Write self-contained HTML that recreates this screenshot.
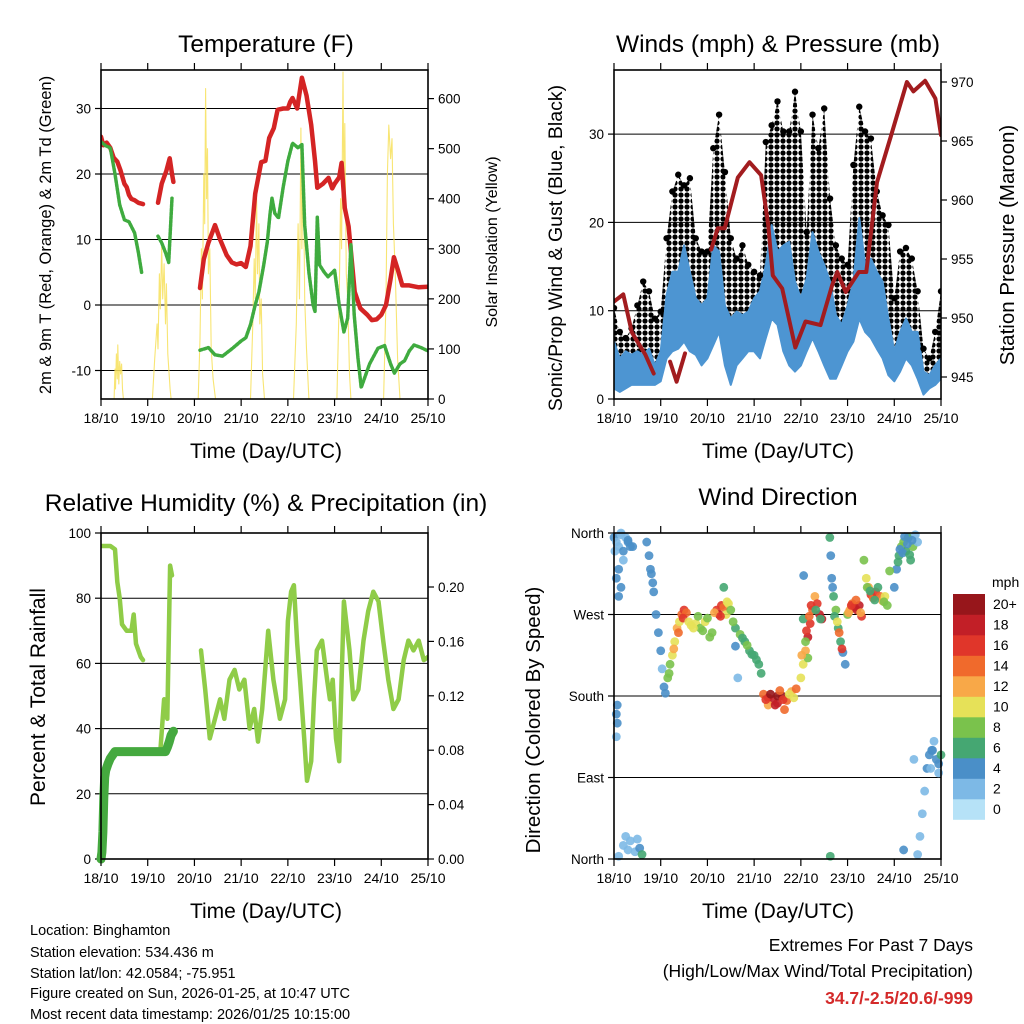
<!DOCTYPE html>
<html><head><meta charset="utf-8"><style>
html,body{margin:0;padding:0;background:#fff;}
svg{display:block;font-family:"Liberation Sans",Arial,sans-serif;}
</style></head><body>
<svg id="fig" width="1024" height="1024" viewBox="0 0 1024 1024">
<defs>
<pattern id="dotpat" x="0" y="0" width="6" height="6" patternUnits="userSpaceOnUse">
<circle cx="3" cy="3" r="2.6" fill="#000"/>
</pattern>
</defs>
<rect x="0" y="0" width="1024" height="1024" fill="#fff"/>
<text x="266" y="52" font-size="24.5" text-anchor="middle">Temperature (F)</text>
<text x="778" y="52" font-size="24.5" text-anchor="middle">Winds (mph) &amp; Pressure (mb)</text>
<text x="266" y="511" font-size="24.5" text-anchor="middle">Relative Humidity (%) &amp; Precipitation (in)</text>
<text x="778" y="505" font-size="24.5" text-anchor="middle">Wind Direction</text>
<text transform="translate(51,235) rotate(-90)" font-size="16.5" text-anchor="middle">2m &amp; 9m T (Red, Orange) &amp; 2m Td (Green)</text>
<text transform="translate(497,242) rotate(-90)" font-size="16" text-anchor="middle">Solar Insolation (Yellow)</text>
<text transform="translate(562,248) rotate(-90)" font-size="19.5" text-anchor="middle">Sonic/Prop Wind &amp; Gust (Blue, Black)</text>
<text transform="translate(1014,245) rotate(-90)" font-size="20.5" text-anchor="middle">Station Pressure (Maroon)</text>
<text transform="translate(45,697) rotate(-90)" font-size="21" text-anchor="middle">Percent &amp; Total Rainfall</text>
<text transform="translate(540,720) rotate(-90)" font-size="20.5" text-anchor="middle">Direction (Colored By Speed)</text>
<text x="266" y="458" font-size="21" text-anchor="middle">Time (Day/UTC)</text>
<text x="778" y="458" font-size="21" text-anchor="middle">Time (Day/UTC)</text>
<text x="266" y="918" font-size="21" text-anchor="middle">Time (Day/UTC)</text>
<text x="778" y="918" font-size="21" text-anchor="middle">Time (Day/UTC)</text>
<g font-size="14.5">
<text x="30" y="935">Location: Binghamton</text>
<text x="30" y="957">Station elevation: 534.436 m</text>
<text x="30" y="978">Station lat/lon: 42.0584; -75.951</text>
<text x="30" y="998">Figure created on Sun, 2026-01-25, at 10:47 UTC</text>
<text x="30" y="1019">Most recent data timestamp: 2026/01/25 10:15:00</text>
</g>
<g font-size="17.5" text-anchor="end">
<text x="973" y="951">Extremes For Past 7 Days</text>
<text x="973" y="977">(High/Low/Max Wind/Total Precipitation)</text>
<text x="973" y="1004" fill="#d42a2a" font-weight="bold">34.7/-2.5/20.6/-999</text>
</g>
</svg>
<script>
// ---------- data ----------
const dayLabels=["18/10","19/10","20/10","21/10","22/10","23/10","24/10","25/10"];
const tempTicks=[-10,0,10,20,30];
const solarTicks=[0,100,200,300,400,500,600];
const windTicks=[0,10,20,30];
const presTicks=[945,950,955,960,965,970];
const rhTicks=[0,20,40,60,80,100];
const rainTicks=[0,0.04,0.08,0.12,0.16,0.20];
const dirTickLabels=["North","East","South","West","North"];
const dirTickVals=[0,90,180,270,360];

const tempT=[[0,0.05,0.12,0.2,0.27,0.35,0.42,0.5,0.55,0.6,0.65,0.72,0.8,0.9],[1.22,1.3,1.4,1.47,1.52,1.55],[2.12,2.2,2.3,2.44,2.55,2.69,2.8,2.9,3.0,3.1,3.2,3.3,3.43,3.52,3.6,3.7,3.78,3.9,4.0,4.05,4.1,4.2,4.3,4.4,4.5,4.58,4.63,4.75,4.87,4.95,5.0,5.1,5.15,5.22,5.3,5.43,5.55,5.7,5.8,5.9,6.0,6.1,6.2,6.27,6.35,6.45,6.6,6.8,7.0]];
const tempV=[[25.7,24.4,24.8,24,22.5,21.9,20.5,18.5,18,16.8,16.2,16,15.6,15.4],[15.6,18.5,20.5,22.4,20,18.8],[2.6,7,9.5,12.2,10,7.6,6.5,6.2,6.4,5.8,9,17,21.8,22,25.5,27,29.8,30,30,31,31.6,30,34.7,32,27.5,22,17.9,18.5,19.4,17.8,18.5,19.5,21.7,14.8,12,2,-0.5,-1.5,-2.3,-2.2,-1.5,0,4,7.3,5.5,3,3,2.7,2.8]];
const dewT=[[0,0.1,0.2,0.3,0.4,0.5,0.6,0.72,0.8,0.87],[1.22,1.3,1.38,1.45,1.52],[2.12,2.3,2.44,2.6,2.82,3.0,3.1,3.2,3.3,3.38,3.48,3.56,3.62,3.66,3.72,3.8,3.9,4.0,4.1,4.22,4.3,4.36,4.45,4.54,4.58,4.63,4.66,4.68,4.78,4.86,5.0,5.1,5.2,5.28,5.35,5.42,5.5,5.57,5.65,5.75,5.93,6.07,6.2,6.28,6.4,6.5,6.6,6.7,6.85,7.0]];
const dewV=[[24.9,24.3,24,20,15.3,13,12.7,11,8,5],[10.5,9.5,8,6.5,16.3],[-6.9,-6.5,-7.6,-7.8,-6.6,-5.5,-5,-3,0,2,6,9.6,14,16.3,14,13.3,18,22,24.7,24,24.5,12.2,5,0,-1,13.4,9,6.1,5,4.3,5.3,0,-4.1,-2,9.2,-1.5,-8,-12.6,-11,-9,-6.6,-6.2,-9,-10.4,-9,-8.5,-7,-6.1,-6.5,-7]];
const solarT=[0.28,0.3,0.31,0.33,0.35,0.36,0.38,0.4,0.42,0.44,0.46,0.48,1.10,1.15,1.2,1.22,1.25,1.27,1.3,1.32,1.35,1.38,1.4,1.43,1.48,1.5,2.08,2.12,2.15,2.17,2.2,2.22,2.24,2.26,2.28,2.3,2.33,2.36,2.4,2.45,3.2,3.25,3.28,3.3,3.33,3.35,3.38,3.4,3.43,3.46,3.5,4.12,4.18,4.22,4.25,4.28,4.3,4.33,4.36,4.4,4.45,5.05,5.1,5.13,5.15,5.18,5.2,5.22,5.25,5.28,5.32,5.35,6.05,6.1,6.13,6.16,6.2,6.23,6.26,6.3,6.35,6.4];
const solarV=[0,60,20,90,40,108,30,75,50,70,20,0,0,80,150,100,250,180,307,200,270,150,230,90,20,0,0,120,300,200,450,350,620,400,500,250,300,100,40,0,0,150,280,200,401,250,350,150,200,50,0,0,150,350,200,541,300,480,200,100,0,0,200,400,300,653,400,550,250,200,50,0,0,200,450,547,480,520,350,250,80,0];

const windStepT=[0,0.125,0.25,0.375,0.5,0.625,0.75,0.875,1,1.125,1.25,1.375,1.5,1.625,1.75,1.875,2,2.125,2.25,2.375,2.5,2.625,2.75,2.875,3,3.125,3.25,3.375,3.5,3.625,3.75,3.875,4,4.125,4.25,4.375,4.5,4.625,4.75,4.875,5,5.125,5.25,5.375,5.5,5.625,5.75,5.875,6,6.125,6.25,6.375,6.5,6.625,6.75,6.875,7];
const gustHi=[10.3,7.6,6.9,8,10.6,13.3,12.2,9.1,9.9,18.2,23.5,25.4,24.2,25,18.2,16.7,16.7,28.4,32.2,25.7,18.2,15.9,17.4,15.2,14.4,14,29.1,31,33.7,30.3,30.3,34.8,30.3,18.9,32.2,28.4,32.9,22.7,17.4,15.9,15.2,26.5,33.1,30.3,29.5,23.5,20.8,19.7,11.4,16.7,17.1,15.9,12.2,5.7,4.6,7.6,12.2];
const windHi=[6.5,4.6,5.4,5,5.4,5,5.7,3.8,5.4,11.8,14.4,14.4,17.4,14.4,11.4,10.6,11.4,17.4,16.7,10.6,9.1,9.9,9.5,9.9,11.4,12.2,15.2,19.7,16.7,17.4,17.8,13.3,11.4,13.7,18.9,16.7,15.2,13.3,9.5,8.4,10.6,13.3,20.5,15.2,15.9,14.4,13.3,9.1,5.4,7.6,9.1,7.6,7.6,3.1,2.7,3.8,4.6];
const windLo=[1.2,0.8,1.2,1.6,1.6,1.6,1.6,1.6,2,4.6,5.4,5.7,6.5,5.4,5,3.8,4.6,6.1,7.6,3.8,1.6,3.8,4.6,5.4,5.4,4.6,6.9,9.1,8.4,5.4,3.8,3.1,3.8,5.4,6.9,5.4,3.8,2.3,2.3,3.8,5.4,6.5,9.1,7.6,6.9,5.7,4.6,2.7,2,3.1,4.6,3.8,2.3,0.5,1.2,1.6,2.3];
const presT=[[0,0.2,0.38,0.5,0.67,0.85],[1.2,1.34,1.52],[2.08,2.22,2.37,2.65,2.9,3.15,3.3,3.4,3.6,3.88,4.1,4.42,4.67,4.78,4.96,5.24,5.4,5.63,5.92,6.27,6.41,6.66,6.88,7.0]];
const presV=[[951.4,952,948.8,948,946.9,945.3],[946.3,944.6,947],[955.8,957.6,957.6,961.9,963.2,962.1,957.9,953.6,952.5,947.5,949.7,949.4,952.8,953.9,952.2,953.9,953.9,961.5,965.3,970,969.2,970.1,968.6,965.5]];

const rhT=[[0,0.2,0.3,0.35,0.4,0.45,0.55,0.65,0.7,0.75,0.85,0.9],[1.27,1.35,1.42,1.48,1.52],[2.14,2.23,2.33,2.44,2.55,2.64,2.75,2.86,2.96,3.07,3.18,3.28,3.36,3.45,3.58,3.69,3.83,3.94,4.0,4.07,4.13,4.2,4.26,4.35,4.41,4.5,4.56,4.62,4.73,4.84,4.9,4.96,5.03,5.1,5.2,5.32,5.4,5.51,5.62,5.72,5.83,5.94,6.04,6.15,6.26,6.37,6.48,6.58,6.69,6.8,6.91,7.0]];
const rhV=[[96,96,95,85,80,72,70,70,75,66,62,61],[33,49,43,90,87],[64,52,37,43,49,43,55,58,52,55,40,46,36,46,70,55,43,49,73,82,84,66,55,37,24,30,49,64,67,55,49,55,37,30,79,64,49,52,67,76,82,79,67,55,46,49,61,67,64,67,61,62]];
const rainT=[0,0.02,0.04,0.06,0.08,0.1,0.15,0.2,0.3,0.8,1.2,1.38,1.42,1.46,1.5,1.55];
const rainV=[0,0.005,0.02,0.045,0.06,0.065,0.07,0.074,0.079,0.079,0.079,0.079,0.082,0.086,0.091,0.094];

const dirT=[0,0.05,0.1,0.15,0.2,0.25,0.3,0.35,0.1,0.15,0.2,0.05,0.1,0.7,0.75,0.8,0.85,0.9,0.95,1.0,1.03,1.07,1.1,0.07,0.07,0.05,0.05,0.2,0.3,0.35,0.45,0.55,0.6,0.1,0.25,0.5,1.15,1.2,1.25,1.3,1.35,1.4,1.45,1.5,1.55,1.65,1.75,1.85,1.95,2.05,2.1,2.2,2.25,2.3,2.35,2.4,2.45,2.5,2.35,2.6,2.7,2.8,2.9,3.0,3.1,3.15,2.6,2.65,3.2,3.3,3.4,3.5,3.6,3.7,3.8,3.9,3.3,3.5,3.65,4.0,4.05,4.1,4.15,4.2,4.25,4.3,4.35,4.4,4.45,4.05,4.1,4.15,4.62,4.64,4.66,4.7,4.75,4.8,4.85,4.9,4.95,5.0,5.05,5.1,5.15,5.2,5.25,5.3,5.35,5.4,5.45,5.5,5.55,5.6,5.7,5.75,5.8,5.85,6.0,6.05,6.1,6.15,6.2,6.25,6.3,6.35,6.4,6.45,6.5,6.5,6.55,6.6,6.65,6.7,6.75,6.8,6.85,6.9,6.95,7.0,6.95,4.63,6.2,4.06,0.02,0.15,0.3,0.4,0.78,0.83,1.18,1.28,1.38,1.48,1.6,1.7,1.8,1.9,2.0,2.15,2.28,2.42,2.55,2.75,2.85,2.95,3.05,3.25,3.35,3.45,3.55,3.62,3.75,3.85,4.02,4.12,4.18,4.22,4.32,4.42,4.68,4.72,4.78,4.82,4.88,5.02,5.08,5.18,5.28,5.42,5.48,5.58,5.65,5.78,5.9,6.08,6.12,6.18,6.22,6.28,6.33,6.38,6.42,6.78,6.82,6.88,6.92,6.98,6.6,6.7];
const dirDeg=[355,350,345,358,340,355,350,345,320,300,330,310,290,350,335,315,295,270,250,230,210,190,183,170,150,135,160,15,10,20,8,12,5,3,25,22,200,215,225,240,255,262,270,275,272,258,260,255,262,245,250,275,270,280,278,270,282,275,300,255,248,240,230,225,215,205,235,200,182,178,175,172,180,175,185,188,170,180,165,200,215,230,245,260,275,290,282,270,265,265,240,222,355,335,310,290,275,255,240,228,215,270,275,282,278,275,280,268,330,310,300,292,288,295,290,285,290,280,300,320,335,345,350,340,355,330,345,358,350,5,25,50,75,100,115,120,130,110,105,115,95,3,10,313,340,360,352,345,320,305,205,232,250,266,262,255,268,252,266,272,268,284,262,244,236,226,220,176,182,170,186,176,182,178,225,252,268,280,275,265,300,268,262,250,232,272,280,286,272,300,296,286,300,284,318,328,342,338,356,348,336,352,110,100,120,112,108,60,85];
const dirSpd=[3,2,1,2,3,2,3,4,3,3,2,4,3,4,4,3,4,4,3,4,2,3,4,4,4,2,3,2,2,1,2,4,5,2,1,2,7,7,9,10,12,10,14,16,13,10,9,8,9,7,8,15,17,16,13,10,10,7,6,6,7,6,5,6,6,5,3,2,14,16,18,17,19,14,12,14,12,20,13,10,9,11,17,16,13,11,15,18,17,6,7,8,6,3,4,6,7,6,6,4,4,8,12,14,16,18,17,15,7,10,12,16,14,15,13,11,9,8,4,4,6,7,8,6,5,6,7,2,1,2,2,1,2,3,4,3,1,4,4,5,2,6,3,4,2,1,3,4,3,4,8,11,13,15,9,10,8,8,7,12,16,10,7,6,7,6,5,15,19,17,13,16,10,9,12,15,14,16,6,5,4,6,10,13,16,12,15,13,11,8,6,6,5,7,8,6,3,4,4,3,5,3,2,2,3];
const spdColors=["#b6e2f7","#7db9e6","#4a8fc8","#45a772","#7ac24c","#e6e158","#f8a848","#f06a2c","#e0362a","#c21f27","#97161b"];
const spdLabels=["0","2","4","6","8","10","12","14","16","18","20+"];

// ---------- helpers ----------
const NS="http://www.w3.org/2000/svg";
const svg=document.getElementById('fig');
function mk(tag,attrs,parent){const e=document.createElementNS(NS,tag);for(const k in attrs)e.setAttribute(k,attrs[k]);(parent||svg).appendChild(e);return e;}
function lin(d0,d1,r0,r1){return v=>r0+(v-d0)*(r1-r0)/(d1-d0);}

function panel(name,L,R,T,B){
  const g=mk('g',{});
  
  
  const xs=lin(0,7,L,R);
  return {g,xs,L,R,T,B};
}
function frame(p,name){
  const r=mk('rect',{x:p.L,y:p.T,width:p.R-p.L,height:p.B-p.T,fill:'none',stroke:'#000','stroke-width':1.6},p.g);
  
  
  dayLabels.forEach((lab,i)=>{
    const x=p.xs(i);
    mk('line',{x1:x,x2:x,y1:p.B,y2:p.B+7,stroke:'#000','stroke-width':1.2},p.g);
    mk('line',{x1:x,x2:x,y1:p.T,y2:p.T-7,stroke:'#000','stroke-width':1.2},p.g);
    const t=mk('text',{x:x,y:p.B+24,'font-size':14,'text-anchor':'middle'},p.g);
    t.textContent=lab;
    
    
  });
}
function leftAxis(p,ticks,ys,fmt,grid){
  ticks.forEach(v=>{const y=ys(v);
    if(grid) mk('line',{x1:p.L,x2:p.R,y1:y,y2:y,stroke:'#000','stroke-width':1},p.g);
    mk('line',{x1:p.L-6,x2:p.L,y1:y,y2:y,stroke:'#000','stroke-width':1.2},p.g);
    const t=mk('text',{x:p.L-10,y:y+5,'font-size':13.5,'text-anchor':'end'},p.g);
    t.textContent=fmt?fmt(v):v;
    
    
  });
}
function rightAxis(p,ticks,ys,fmt){
  ticks.forEach(v=>{const y=ys(v);
    mk('line',{x1:p.R,x2:p.R+6,y1:y,y2:y,stroke:'#000','stroke-width':1.2},p.g);
    const t=mk('text',{x:p.R+10,y:y+5,'font-size':13.5,'text-anchor':'start'},p.g);
    t.textContent=fmt?fmt(v):v;
    
    
  });
}
function line(p,T,V,ys,color,w,name){
  const pts=T.map((t,i)=>p.xs(t).toFixed(1)+','+ys(V[i]).toFixed(1)).join(' ');
  const e=mk('polyline',{points:pts,fill:'none',stroke:color,'stroke-width':w,'stroke-linejoin':'round','stroke-linecap':'round'},p.g);
  
  
  return e;
}
function clip(p,id){const c=mk('clipPath',{id:id});mk('rect',{x:p.L,y:p.T,width:p.R-p.L,height:p.B-p.T},c);}

// ---------- panel 1: temperature ----------
const p1=panel('temperature',101,428,70,399);
const tY=lin(0,10,305,239.5), sY=lin(0,600,399,98.6);
clip(p1,'c1');
leftAxis(p1,tempTicks,tY,null,true);
rightAxis(p1,solarTicks,sY);
const s1=mk('g',{'clip-path':'url(#c1)'},p1.g);
const solar=line({g:s1,xs:p1.xs},solarT,solarV,sY,'#f7e15a',1.1,'solar-insolation-line');
solar.setAttribute('opacity','0.85');
tempT.forEach((T,i)=>line({g:s1,xs:p1.xs},T,tempV[i],tY,'#d42424',4.5,'temperature-line'));
dewT.forEach((T,i)=>{const e=line({g:s1,xs:p1.xs},T,dewV[i],tY,'#3fab3f',3.5,'dewpoint-line');e.setAttribute('stroke-dasharray','2.5 1.5');});
frame(p1,'temperature');

// ---------- panel 2: winds ----------
const p2=panel('winds',614,941,70,399);
const wY=lin(0,10,399,310.7), pY=lin(945,970,377,82);
clip(p2,'c2');
leftAxis(p2,windTicks,wY,null,true);
rightAxis(p2,presTicks,pY);
const s2=mk('g',{'clip-path':'url(#c2)'},p2.g);
function band(T,hi,lo,ys,fill,stroke,name){
  const up=T.map((t,i)=>p2.xs(t).toFixed(1)+','+ys(hi[i]).toFixed(1));
  const dn=T.map((t,i)=>p2.xs(t).toFixed(1)+','+ys(lo[i]).toFixed(1)).reverse();
  const e=mk('polygon',{points:up.concat(dn).join(' '),fill:fill,stroke:stroke,'stroke-width':2,'stroke-linejoin':'round'},s2);
  
  
}
band(windStepT,gustHi,windLo,wY,'url(#dotpat)','none','gust-band');
band(windStepT,windHi,windLo,wY,'#4d95d2','#4d95d2','wind-band');
windStepT.forEach((t,i)=>{
  const c=mk('circle',{cx:p2.xs(t),cy:wY(gustHi[i]),r:3.2,fill:'#000'},s2);
  
  
});
presT.forEach((T,i)=>line({g:s2,xs:p2.xs},T,presV[i],pY,'#a21c1f',4,'pressure-line'));
frame(p2,'winds');

// ---------- panel 3: humidity ----------
const p3=panel('humidity',101,428,533,859);
const hY=lin(0,100,859,533), rY=lin(0,0.2,859,587);
clip(p3,'c3');
leftAxis(p3,rhTicks,hY,null,true);
rightAxis(p3,rainTicks,rY,v=>v.toFixed(2));
const s3=mk('g',{'clip-path':'url(#c3)'},p3.g);
rhT.forEach((T,i)=>line({g:s3,xs:p3.xs},T,rhV[i],hY,'#8fcc48',4.5,'humidity-line'));
line({g:p3.g,xs:p3.xs},rainT,rainV,rY,'#45a93f',9,'rainfall-line');
frame(p3,'humidity');

// ---------- panel 4: wind direction ----------
const p4=panel('wind-direction',614,941,533,859);
const dY=lin(0,360,859,533);
leftAxis(p4,dirTickVals,dY,v=>dirTickLabels[dirTickVals.indexOf(v)],true);
const s4=mk('g',{},p4.g);
const nDir=Math.min(dirT.length,dirDeg.length,dirSpd.length);
for(let i=0;i<nDir;i++){
  const k=Math.min(10,Math.max(0,Math.round(dirSpd[i]/2)));
  const c=mk('circle',{cx:p4.xs(dirT[i]),cy:dY(dirDeg[i]),r:4.4,fill:spdColors[k],opacity:0.9},s4);
  
  
}
frame(p4,'wind-direction');

// colorbar
const cb=mk('g',{});


const cbT=594,cbH=20.5;
const mph=mk('text',{x:992,y:587,'font-size':14},cb);mph.textContent='mph';
spdColors.forEach((c,i)=>{
  const y=cbT+(10-i)*cbH;
  const r=mk('rect',{x:953,y:y,width:32,height:cbH+0.3,fill:c},cb);
  
  
  const t=mk('text',{x:993,y:y+15,'font-size':14},cb);
  t.textContent=spdLabels[i];
  
  
});
</script>
</body></html>
